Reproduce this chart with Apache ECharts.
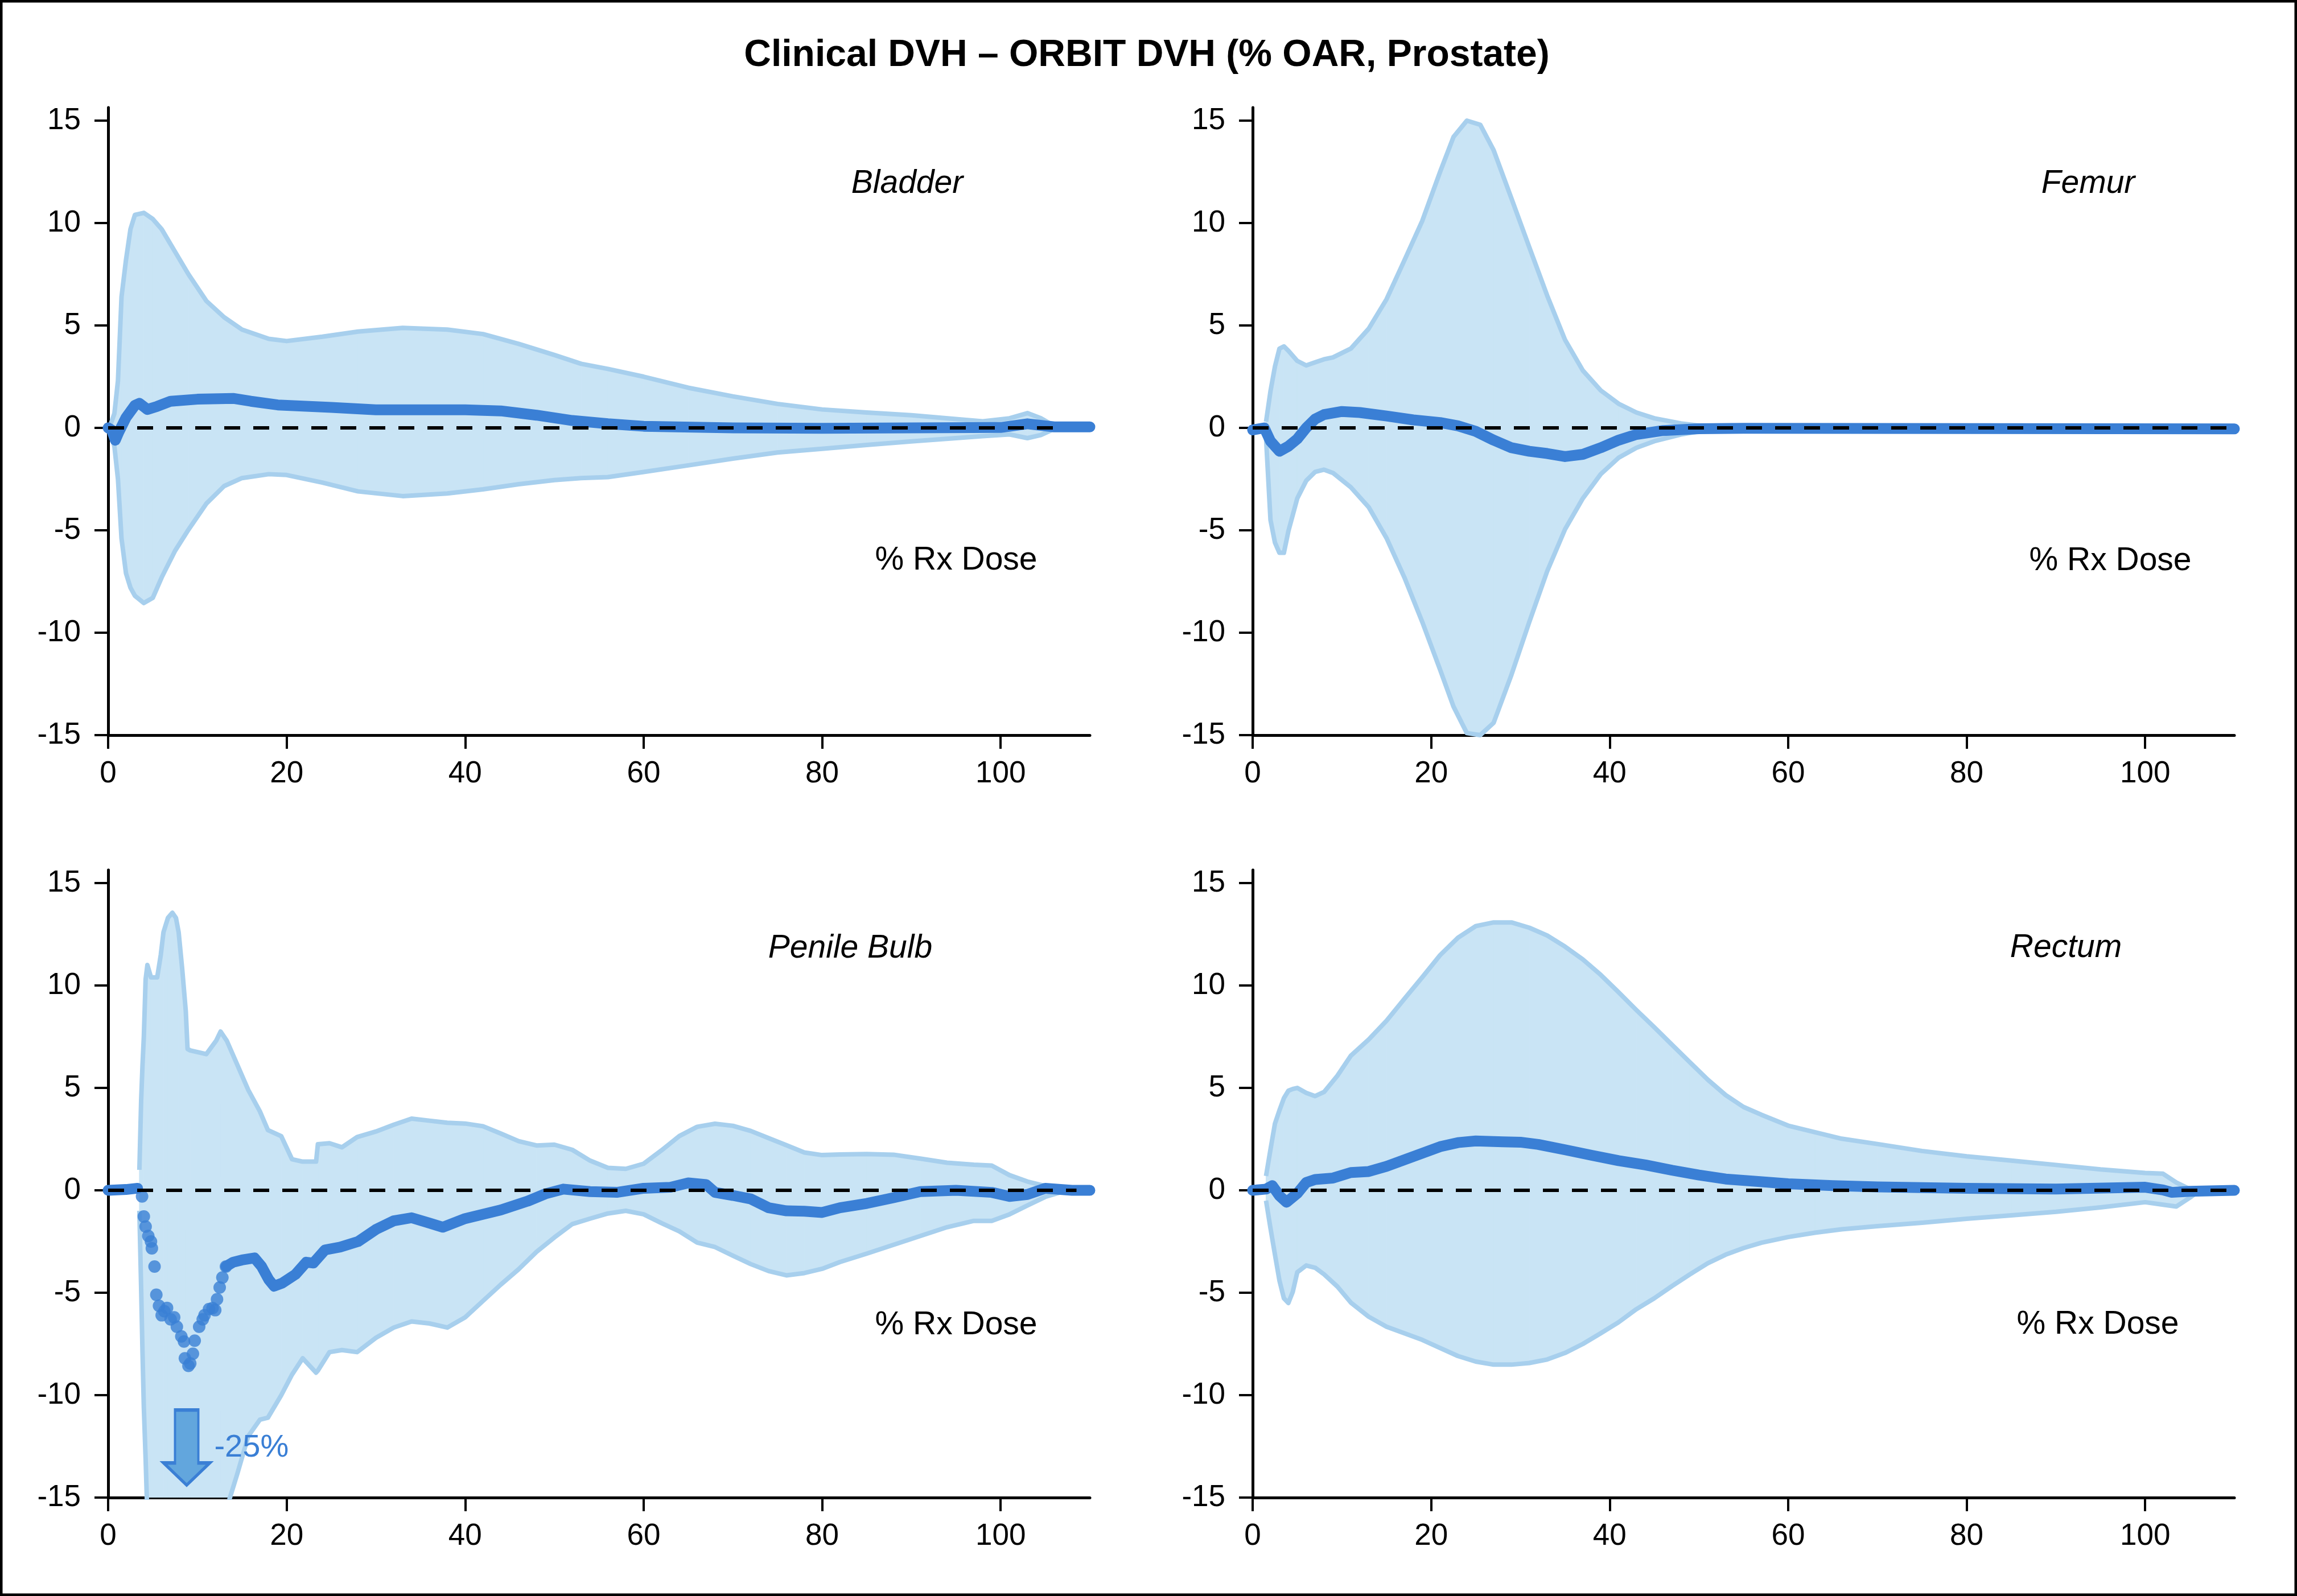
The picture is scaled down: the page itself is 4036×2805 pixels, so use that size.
<!DOCTYPE html>
<html><head><meta charset="utf-8">
<script src="https://cdn.jsdelivr.net/npm/echarts@6/dist/echarts.min.js"></script>
<style>html,body{margin:0;padding:0;background:#fff}#c{width:4036px;height:2805px}</style>
</head><body><div id="c"></div>
<script>
// ---------------- DATA ----------------
const chartTitle = 'Clinical DVH \u2013 ORBIT DVH (% OAR, Prostate)';
const panelNames = ['Bladder', 'Femur', 'Penile Bulb', 'Rectum'];
const axisCaption = '% Rx Dose';
const xTicks = [0, 20, 40, 60, 80, 100];
const yTicks = [-15, -10, -5, 0, 5, 10, 15];

// Bladder
const bladderBandX = [0.3,0.7,1.1,1.5,2,2.5,3,4,5,6,7.5,9,11,13,15,18,20,24,28,33,38,42,46,50,53,56,60,65,70,75,80,85,90,95,98,101,103,104.5,106,110];
const bladderUpper = [0.2,0.7,2.3,6.4,8.2,9.7,10.4,10.5,10.2,9.7,8.6,7.5,6.2,5.4,4.8,4.35,4.24,4.45,4.7,4.88,4.8,4.58,4.1,3.56,3.13,2.88,2.5,1.96,1.54,1.17,0.9,0.75,0.62,0.43,0.32,0.47,0.72,0.47,0.1,0.02];
const bladderLower = [-0.3,-0.9,-2.5,-5.4,-7.1,-7.8,-8.2,-8.55,-8.3,-7.3,-6.0,-4.97,-3.7,-2.84,-2.45,-2.26,-2.3,-2.67,-3.1,-3.33,-3.2,-3.0,-2.75,-2.55,-2.45,-2.4,-2.15,-1.83,-1.5,-1.2,-1.02,-0.83,-0.66,-0.5,-0.4,-0.32,-0.5,-0.35,-0.05,-0.02];
const bladderMeanX = [0,0.4,0.8,1.2,2,3,3.5,4.4,5.5,7,10,14,16,19,25,30,40,44,48,52,56,60,70,80,90,100,103,106,110];
const bladderMean = [0,-0.1,-0.6,-0.2,0.5,1.1,1.2,0.9,1.05,1.3,1.4,1.44,1.3,1.12,1.0,0.88,0.88,0.83,0.62,0.36,0.2,0.08,0,-0.02,0,0.02,0.2,0.05,0.05];

// Femur
const femurBandX = [1.5,2,2.5,3,3.5,4,5,6,7,8,9,11,13,15,17,19,21,22.5,24,25.5,27,29,31,33,35,37,39,41,43,45,48,51,55,110];
const femurUpper = [0.3,1.8,3.0,3.87,3.98,3.77,3.27,3.05,3.2,3.35,3.44,3.87,4.84,6.28,8.18,10.1,12.5,14.2,15.0,14.8,13.56,11.2,8.82,6.46,4.3,2.8,1.83,1.18,0.75,0.47,0.22,0.06,0.0,0.0];
const femurLower = [-0.5,-4.5,-5.6,-6.1,-6.1,-5.05,-3.44,-2.58,-2.15,-2.04,-2.2,-2.9,-3.87,-5.38,-7.3,-9.47,-11.8,-13.6,-14.9,-15.0,-14.4,-12.05,-9.47,-7.0,-4.95,-3.44,-2.26,-1.46,-0.97,-0.65,-0.32,-0.1,-0.02,-0.02];
const femurMeanX = [0,1.3,2,3,4,5,6,7,8,10,12,15,18,21,23,25,27,29,31,33,35,37,39,41,43,46,50,55,110];
const femurMean = [-0.1,0,-0.65,-1.14,-0.9,-0.54,0,0.43,0.65,0.8,0.75,0.58,0.39,0.26,0.1,-0.17,-0.6,-0.97,-1.14,-1.25,-1.4,-1.29,-0.97,-0.6,-0.32,-0.13,-0.04,-0.02,-0.05];

// Penile Bulb
const pbBandX = [3.5,3.7,3.85,4.0,4.2,4.4,4.8,5.5,5.9,6.2,6.7,7.2,7.6,7.9,8.3,8.7,8.9,9.2,11,12.1,12.6,13.3,14.5,15.7,17,17.9,19.4,20.6,21.8,23.3,23.5,24.8,26.2,27.9,30,32,34,36,38,40,42,44,46,48,50,52,54,56,58,60,62,64,66,68,70,72,74,76,78,80,82,85,88,91,94,97,99,101,103,105,107,110];
const pbUpper = [1.0,4.4,6.1,7.5,10.3,11.0,10.4,10.4,11.5,12.6,13.3,13.55,13.3,12.6,10.8,8.75,6.9,6.83,6.65,7.3,7.75,7.3,6.1,4.9,3.86,2.94,2.64,1.52,1.4,1.4,2.25,2.3,2.1,2.6,2.87,3.2,3.5,3.4,3.3,3.26,3.13,2.77,2.4,2.19,2.23,1.98,1.45,1.1,1.05,1.3,1.95,2.65,3.1,3.25,3.15,2.9,2.55,2.2,1.85,1.72,1.75,1.77,1.74,1.55,1.35,1.25,1.21,0.74,0.43,0.21,0.06,0];
const pbLower = [-1.0,-4.8,-7.9,-10.6,-13.1,-16,-20,-24,-25,-26,-26,-25.5,-25,-25,-25,-24,-24,-23,-20,-18,-16.5,-15.5,-13.8,-12.0,-11.2,-11.1,-10.0,-9.0,-8.2,-8.9,-8.8,-7.9,-7.8,-7.9,-7.2,-6.7,-6.4,-6.5,-6.7,-6.2,-5.4,-4.6,-3.85,-3.0,-2.3,-1.65,-1.38,-1.13,-1.0,-1.17,-1.6,-2.0,-2.55,-2.77,-3.19,-3.6,-3.94,-4.15,-4.04,-3.83,-3.5,-3.09,-2.66,-2.23,-1.8,-1.49,-1.49,-1.17,-0.74,-0.32,-0.06,0];
const pbMeanX = [0,2,3.3,3.8,4.0,4.2,4.5,4.8,4.9,5.2,5.4,5.7,6.0,6.3,6.6,7.0,7.4,7.7,8.2,8.5,8.6,9.0,9.2,9.5,9.7,10.2,10.6,10.8,11.3,11.7,12.0,12.2,12.5,12.8,13.2,14,15,16.4,17.2,18,18.6,19.5,21,22.2,23,24.3,26,28,30,32,34,36,37.5,40,44,47,49,51,54,57,60,63,65,67,68,70,72,74,76,78,80,82,85,88,91,95,99,101,103,105,108,110];
const pbMean = [0,0.04,0.1,-0.3,-1.28,-1.77,-2.23,-2.5,-2.83,-3.72,-5.1,-5.64,-6.1,-5.9,-5.74,-6.3,-6.2,-6.66,-7.13,-7.38,-8.2,-8.57,-8.45,-7.98,-7.34,-6.66,-6.3,-6.1,-5.8,-5.75,-5.85,-5.32,-4.74,-4.26,-3.72,-3.51,-3.4,-3.3,-3.72,-4.36,-4.68,-4.53,-4.1,-3.51,-3.55,-2.91,-2.77,-2.5,-1.91,-1.49,-1.34,-1.6,-1.8,-1.38,-0.96,-0.53,-0.17,0.06,-0.06,-0.1,0.1,0.15,0.36,0.28,-0.1,-0.25,-0.42,-0.85,-1.0,-1.02,-1.08,-0.85,-0.64,-0.36,-0.06,0,-0.1,-0.3,-0.2,0.1,0,0];
const pbDottedRange = [3.8, 13.2];
const pbArrowAt = [8.8, -12.56];
const pbArrowLabel = '-25%';

// Rectum
const rectumBandX = [1.5,2,2.5,3,3.5,4,4.5,5,6,7,8,9.5,11,13,15,17,19,21,23,25,27,29,31,33,35,37,39,41,43,45,47,49,51,53,55,57,60,63,66,70,75,80,85,90,95,100,102,103.5,105,106,110];
const rectumUpper = [0.7,2.0,3.26,3.9,4.5,4.86,4.95,5.0,4.76,4.6,4.8,5.6,6.57,7.36,8.28,9.35,10.4,11.48,12.33,12.9,13.08,13.08,12.82,12.44,11.9,11.27,10.52,9.67,8.8,7.96,7.1,6.25,5.4,4.65,4.07,3.69,3.16,2.84,2.52,2.26,1.92,1.66,1.45,1.24,1.02,0.85,0.81,0.38,0.06,0.02,0];
const rectumLower = [-0.5,-1.86,-3.14,-4.4,-5.27,-5.5,-4.95,-4.0,-3.67,-3.78,-4.1,-4.7,-5.48,-6.17,-6.66,-6.98,-7.3,-7.7,-8.09,-8.36,-8.51,-8.51,-8.43,-8.26,-7.94,-7.5,-6.98,-6.44,-5.8,-5.27,-4.67,-4.1,-3.56,-3.14,-2.82,-2.56,-2.28,-2.07,-1.9,-1.75,-1.58,-1.39,-1.22,-1.05,-0.83,-0.58,-0.7,-0.79,-0.36,-0.04,0];
const rectumMeanX = [0,1.5,2.2,3,3.8,5,6,7,9,11,13,15,17,19,21,23,25,28,30,32,35,38,41,44,47,50,53,56,60,65,70,80,90,100,102,103,105,110];
const rectumMean = [0,0.06,0.23,-0.26,-0.58,-0.15,0.38,0.53,0.6,0.87,0.92,1.17,1.49,1.81,2.13,2.33,2.41,2.37,2.35,2.24,1.98,1.71,1.45,1.24,0.98,0.75,0.55,0.45,0.32,0.23,0.17,0.1,0.06,0.15,0.02,-0.1,-0.05,0];

const zeroLineEnd = [107, 110, 108.5, 110];

// ---------------- STYLE / LAYOUT ----------------
const FONT = '"Liberation Sans", Arial, Helvetica, sans-serif';
const MEAN_COLOR = '#3a7fd5';
const BAND_FILL = '#c9e4f5';
const BAND_EDGE = '#a7cfed';

const gridBoxes = [
  {left: 190, top: 189, width: 1725, height: 1103},
  {left: 2201, top: 189, width: 1725, height: 1103},
  {left: 190, top: 1529, width: 1725, height: 1103},
  {left: 2201, top: 1529, width: 1725, height: 1103}
];
const nameLabelPos = [[1594, 323], [3669, 323], [1494, 1667], [3630, 1666]];
const captionPos = [[1680, 985], [3708, 986], [1680, 2329], [3686, 2328]];

const panels = [
  {bandX: bladderBandX, upper: bladderUpper, lower: bladderLower, meanX: bladderMeanX, mean: bladderMean},
  {bandX: femurBandX, upper: femurUpper, lower: femurLower, meanX: femurMeanX, mean: femurMean},
  {bandX: pbBandX, upper: pbUpper, lower: pbLower, meanX: pbMeanX, mean: pbMean, dotted: pbDottedRange},
  {bandX: rectumBandX, upper: rectumUpper, lower: rectumLower, meanX: rectumMeanX, mean: rectumMean}
];

function bandRender(params, api) {
  const a = api.coord([api.value(0), api.value(2)]);
  const b = api.coord([api.value(3), api.value(5)]);
  const c = api.coord([api.value(3), api.value(4)]);
  const d = api.coord([api.value(0), api.value(1)]);
  return {
    type: 'polygon',
    shape: {points: [a, b, c, d]},
    style: {fill: BAND_FILL, stroke: BAND_FILL, lineWidth: 1}
  };
}

const grid = [], xAxis = [], yAxis = [], series = [];
panels.forEach((p, i) => {
  grid.push(Object.assign({outerBoundsMode: 'none', containLabel: false}, gridBoxes[i]));
  xAxis.push({
    gridIndex: i, type: 'value', min: 0, max: 110,
    axisLine: {show: true, onZero: false, lineStyle: {color: '#000', width: 5}},
    axisTick: {show: true, length: 24, lineStyle: {color: '#000', width: 4}, customValues: xTicks},
    axisLabel: {customValues: xTicks, color: '#000', fontSize: 53, fontFamily: FONT, margin: 42},
    splitLine: {show: false}
  });
  yAxis.push({
    gridIndex: i, type: 'value', min: -15, max: 15.64,
    axisLine: {show: true, onZero: false, lineStyle: {color: '#000', width: 5}},
    axisTick: {show: true, length: 24, lineStyle: {color: '#000', width: 4}, customValues: yTicks},
    axisLabel: {customValues: yTicks, color: '#000', fontSize: 53, fontFamily: FONT, margin: 48},
    splitLine: {show: false}
  });

  const segs = [];
  for (let k = 0; k < p.bandX.length - 1; k++) {
    segs.push([p.bandX[k], p.lower[k], p.upper[k], p.bandX[k + 1], p.lower[k + 1], p.upper[k + 1]]);
  }
  series.push({
    type: 'custom', xAxisIndex: i, yAxisIndex: i, renderItem: bandRender, data: segs,
    encode: {x: [0, 3], y: [1, 2, 4, 5]}, clip: true, silent: true, z: 1, animation: false
  });
  series.push({
    type: 'line', xAxisIndex: i, yAxisIndex: i, symbol: 'none', silent: true, z: 2, animation: false,
    data: p.bandX.map((x, k) => [x, p.upper[k]]), lineStyle: {color: BAND_EDGE, width: 8, join: 'round'}
  });
  series.push({
    type: 'line', xAxisIndex: i, yAxisIndex: i, symbol: 'none', silent: true, z: 2, animation: false,
    data: p.bandX.map((x, k) => [x, p.lower[k]]), lineStyle: {color: BAND_EDGE, width: 8, join: 'round'}
  });

  const meanPts = p.meanX.map((x, k) => [x, p.mean[k]]);
  const meanLine = {type: 'line', xAxisIndex: i, yAxisIndex: i, symbol: 'none', silent: true, z: 3, animation: false,
    lineStyle: {color: MEAN_COLOR, width: 19, cap: 'round', join: 'round'}};
  if (p.dotted) {
    const lo = p.dotted[0], hi = p.dotted[1];
    series.push(Object.assign({}, meanLine, {data: meanPts.filter(d => d[0] < lo)}));
    series.push(Object.assign({}, meanLine, {data: meanPts.filter(d => d[0] >= hi)}));
    series.push({
      type: 'scatter', xAxisIndex: i, yAxisIndex: i, symbol: 'circle', symbolSize: 22, silent: true, z: 3, animation: false,
      itemStyle: {color: MEAN_COLOR}, data: meanPts.filter(d => d[0] >= lo && d[0] <= hi),
      markPoint: {
        silent: true, animation: false,
        data: [{
          coord: pbArrowAt,
          symbol: 'path://M20,0 L61,0 L61,93 L81,93 L40.5,132 L0,93 L20,93 Z',
          symbolSize: [81, 132],
          itemStyle: {color: '#62a6dd', borderColor: MEAN_COLOR, borderWidth: 5},
          label: {show: true, position: 'right', distance: 6, formatter: pbArrowLabel, color: MEAN_COLOR, fontSize: 56, fontFamily: FONT}
        }]
      }
    });
  } else {
    series.push(Object.assign({}, meanLine, {data: meanPts}));
  }

  series.push({
    type: 'line', xAxisIndex: i, yAxisIndex: i, symbol: 'none', silent: true, z: 5, animation: false,
    data: [[0, 0], [zeroLineEnd[i], 0]], lineStyle: {color: '#000', width: 6, type: [28, 23]}
  });
});

const graphic = [
  {type: 'rect', silent: true, shape: {x: 2, y: 2, width: 4032, height: 2801}, style: {fill: null, stroke: '#000', lineWidth: 5}},
  {type: 'text', x: 2015, y: 98, silent: true, style: {text: chartTitle, font: 'bold 66px ' + FONT, fill: '#000', align: 'center', verticalAlign: 'middle', textAlign: 'center', textVerticalAlign: 'middle'}}
];
panelNames.forEach((n, i) => {
  graphic.push({type: 'text', x: nameLabelPos[i][0], y: nameLabelPos[i][1], silent: true,
    style: {text: n, font: 'italic 57px ' + FONT, fill: '#000', align: 'center', verticalAlign: 'middle', textAlign: 'center', textVerticalAlign: 'middle'}});
  graphic.push({type: 'text', x: captionPos[i][0], y: captionPos[i][1], silent: true,
    style: {text: axisCaption, font: '57px ' + FONT, fill: '#000', align: 'center', verticalAlign: 'middle', textAlign: 'center', textVerticalAlign: 'middle'}});
});

const chart = echarts.init(document.getElementById('c'), null, {renderer: 'canvas'});
chart.setOption({
  backgroundColor: '#fff',
  animation: false,
  grid, xAxis, yAxis, series, graphic
});
</script></body></html>
